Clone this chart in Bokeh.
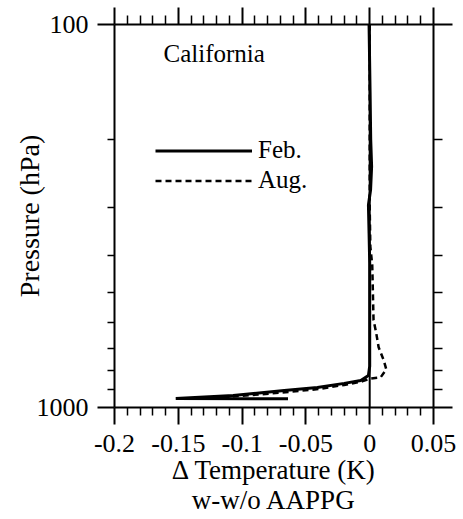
import math
from bokeh.plotting import figure
from bokeh.models import (LogAxis, LinearAxis, FixedTicker, Span, Label,
                          Legend, LegendItem, Range1d)
from bokeh.embed import file_html
from bokeh.resources import INLINE

# ---------------- data ----------------
feb_p = [100, 150, 200, 235, 270, 296, 350, 420, 500, 600, 700, 780, 825, 850, 865, 887, 903, 930, 947, 949]
feb_t = [-0.0005, 0.0003, 0.0008, 0.0015, 0.0007, -0.001, -0.0005, 0.0, 0.0, 0.0, 0.0, 0.0,
         -0.001, -0.007, -0.020, -0.041, -0.067, -0.107, -0.152, -0.064]

aug_p = [100, 200, 300, 380, 425, 500, 591, 636, 696, 753, 795, 834, 840, 855, 873, 895, 915, 938]
aug_t = [0.0, 0.0, 0.0, 0.0005, 0.002, 0.0025, 0.003, 0.005, 0.007, 0.011, 0.013, 0.0086,
         0.0005, -0.006, -0.020, -0.040, -0.070, -0.110]

x_ticks = [-0.2, -0.15, -0.1, -0.05, 0, 0.05]
x_tick_labels = ["-0.2", "-0.15", "-0.1", "-0.05", "0", "0.05"]
x_minor_ticks = [-0.19, -0.18, -0.17, -0.16, -0.14, -0.13, -0.12, -0.11,
                 -0.09, -0.08, -0.07, -0.06, -0.04, -0.03, -0.02, -0.01,
                 0.01, 0.02, 0.03, 0.04]
y_ticks = [100, 1000]
y_tick_labels = ["100", "1000"]
y_minor_ticks = [200, 300, 400, 500, 600, 700, 800, 900]

series_labels = ["Feb.", "Aug."]
region_title = "California"
y_title = "Pressure (hPa)"
x_title = "\u0394 Temperature (K)\nw-w/o AAPPG"

FONT = "Liberation Serif"

# ---------------- figure ----------------
p = figure(width=463, height=519,
           x_range=Range1d(-0.2, 0.05), y_range=Range1d(1000, 100),
           y_axis_type="log", output_backend="svg", toolbar_location=None,
           min_border_left=114, min_border_right=30,
           min_border_top=24, min_border_bottom=112)
p.grid.visible = False
p.outline_line_color = None
p.background_fill_color = "white"
p.border_fill_color = "white"

xt = FixedTicker(ticks=x_ticks, minor_ticks=x_minor_ticks)
yt = FixedTicker(ticks=y_ticks, minor_ticks=y_minor_ticks)


def style(ax, mj_out, mn_out):
    ax.axis_line_width = 2
    ax.axis_line_color = "black"
    ax.major_tick_line_width = 2
    ax.minor_tick_line_width = 1.5
    ax.major_tick_line_color = "black"
    ax.minor_tick_line_color = "black"
    ax.major_tick_in = 0
    ax.minor_tick_in = 0
    ax.major_tick_out = mj_out
    ax.minor_tick_out = mn_out
    ax.major_label_text_font = FONT
    ax.major_label_text_font_size = "26px"
    ax.major_label_text_color = "black"
    ax.axis_label_text_font = FONT
    ax.axis_label_text_font_size = "28px"
    ax.axis_label_text_font_style = "normal"
    ax.axis_label_text_color = "black"


bx = p.xaxis[0]
bx.ticker = xt
style(bx, 17, 8)
bx.major_label_overrides = {k: v for k, v in zip(x_ticks, x_tick_labels)}
bx.major_label_standoff = 10
bx.axis_label = x_title
bx.axis_label_standoff = 0
bx.axis_label_text_font_size = "27px"
bx.axis_label_text_line_height = 1.0

ly = p.yaxis[0]
ly.ticker = yt
style(ly, 17, 7)
ly.major_label_overrides = {k: v for k, v in zip(y_ticks, y_tick_labels)}
ly.major_label_standoff = 9
ly.axis_label = y_title
ly.axis_label_standoff = -11

tx = LinearAxis(ticker=xt)
style(tx, 17, 9)
tx.major_label_text_alpha = 0
tx.major_label_text_font_size = "1px"
tx.major_label_standoff = 0
p.add_layout(tx, "above")

ry = LogAxis(ticker=yt)
style(ry, 19, 9)
ry.major_label_text_alpha = 0
ry.major_label_text_font_size = "1px"
ry.major_label_standoff = 0
p.add_layout(ry, "right")

# zero reference line
p.add_layout(Span(location=0, dimension="height", line_color="black", line_width=2))

feb = p.line(feb_t, feb_p, line_color="black", line_width=3)
aug = p.line(aug_t, aug_p, line_color="black", line_width=2.5, line_dash="6 4")

legend = Legend(items=[LegendItem(label=series_labels[0], renderers=[feb]),
                       LegendItem(label=series_labels[1], renderers=[aug])],
                location=(41, 213), orientation="vertical",
                glyph_width=97, glyph_height=25, label_height=25,
                spacing=2, padding=0, margin=0, label_standoff=6,
                border_line_color=None, background_fill_alpha=0,
                label_text_font=FONT, label_text_font_size="25px",
                label_text_color="black")
p.add_layout(legend)

p.add_layout(Label(x=49, y=354, x_units="screen", y_units="screen",
                   text=region_title, text_font=FONT, text_font_size="25px",
                   text_color="black", text_baseline="alphabetic"))

open("out.html", "w").write(file_html(p, INLINE))
